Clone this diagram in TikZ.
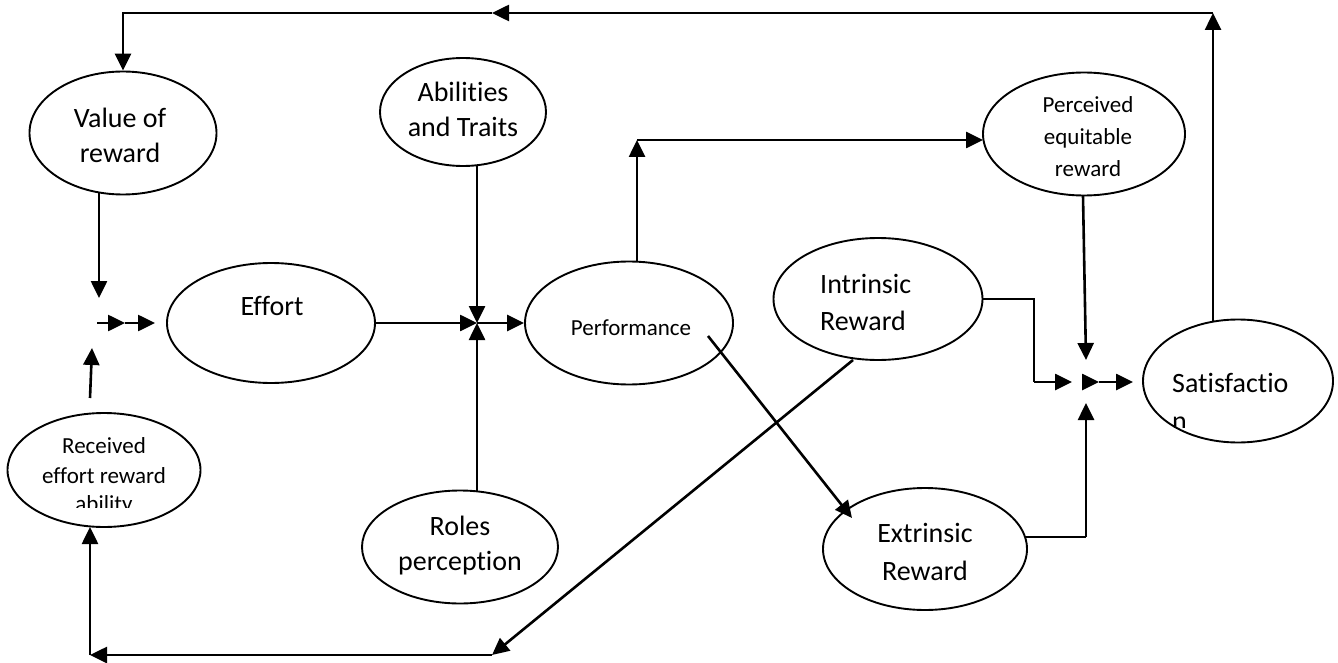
\documentclass[tikz,border=0pt]{standalone}
\usepackage{fontspec}
\setmainfont{Carlito}[RawFeature={-liga;-clig;-calt;-dlig}]
\usetikzlibrary{shapes.geometric,arrows.meta}
\begin{document}
\begin{tikzpicture}[x=1pt,y=-1pt,
  ell/.style={draw, ellipse, line width=1.9pt, inner sep=0pt},
  big/.style={font=\fontsize{28}{35}\selectfont, anchor=base, inner sep=0pt},
  small/.style={font=\fontsize{23}{30}\selectfont, anchor=base, inner sep=0pt},
  conn/.style={line width=2.6pt, -{Triangle[length=17pt,width=16pt]}},
  thin/.style={line width=1.6pt}]
\useasboundingbox (0,0) rectangle (1338,663);
% ellipses
\node[ell, minimum width=187pt, minimum height=123pt] (val) at (123,133) {};
\node[ell, minimum width=208pt, minimum height=120pt] (eff) at (271,323) {};
\node[ell, minimum width=166pt, minimum height=108pt] (abil) at (463,112) {};
\node[ell, minimum width=208pt, minimum height=123pt] (perf) at (629,323) {};
\node[ell, minimum width=196pt, minimum height=113pt] (roles) at (460,547) {};
\node[ell, minimum width=209pt, minimum height=122pt] (intr) at (878,299) {};
\node[ell, minimum width=204pt, minimum height=122pt] (extr) at (925,549) {};
\node[ell, minimum width=202pt, minimum height=123pt] (perc) at (1084,134) {};
\node[ell, minimum width=190pt, minimum height=123pt] (sat) at (1238,381) {};
\node[ell, minimum width=193pt, minimum height=114pt] (recv) at (104,470) {};
% texts
\node[big] (valA) at (120,128) {Value of};
\node[big] (valB) at (120,163) {reward};
\node[big] (effT) at (272,315) {Effort};
\node[big] (abA) at (463,102) {Abilities};
\node[big] (abB) at (463,137) {and Traits};
\node[small] (perfT) at (631,335) {Performance};
\node[big] (roA) at (460,535) {Roles};
\node[big] (roB) at (460,570) {perception};
\node[big, anchor=base west] (inA) at (820,293) {Intrinsic};
\node[big, anchor=base west] (inB) at (820,330) {Reward};
\node[big] (exA) at (925,542) {Extrinsic};
\node[big] (exB) at (925,580) {Reward};
\node[small] (peA) at (1088,113) {Perceived};
\node[small] (peB) at (1088,145) {equitable};
\node[small] (peC) at (1088,177) {reward};
\node[big, anchor=base west] (saA) at (1172,392) {Satisfactio};
\begin{scope}
  \clip (1150,400) rectangle (1330,427);
  \node[big, anchor=base west] (saB) at (1172,430) {n};
\end{scope}
\node[small] (reA) at (104,453) {Received};
\node[small] (reB) at (104,483) {effort reward};
\begin{scope}
  \clip (20,488) rectangle (190,507);
  \node[small] (reC) at (104,511) {ability};
\end{scope}
% coordinates
\coordinate (sTop) at (1213,322);
\coordinate (tr) at (1213,13);
\coordinate (tm) at (492,13);
\coordinate (tl) at (123,13);
\coordinate (vB) at (99,193);
\coordinate (vJ) at (99,298);
\coordinate (jEa) at (97,323);
\coordinate (jEb) at (125,323);
\coordinate (jEc) at (155,323);
\coordinate (rT) at (90,398);
\coordinate (rJ) at (92,348);
\coordinate (bl) at (90,655);
\coordinate (bm) at (492,655);
\coordinate (rB) at (90,527);
\coordinate (iB) at (853,360);
\coordinate (jP) at (477,323);
\coordinate (aB) at (477,165);
\coordinate (roT) at (477,491);
\coordinate (pT) at (637,262);
\coordinate (pC) at (637,140);
\coordinate (peL) at (983,140);
\coordinate (peB) at (1083,196);
\coordinate (sJt) at (1086,360);
\coordinate (iR1) at (1034,299);
\coordinate (iR2) at (1034,382);
\coordinate (sJa) at (1072,382);
\coordinate (sJb) at (1082,382);
\coordinate (sJc) at (1099,382);
\coordinate (sJd) at (1133,382);
\coordinate (eR) at (1026,537);
\coordinate (eR2) at (1086,537);
\coordinate (sJu) at (1086,403);
\coordinate (pD) at (708,336);
\coordinate (eT) at (852,518);
% connectors
\draw[conn] (sTop) -- (tr);
\draw[conn] (tr) -- (tm);
\draw[conn] (tm) -- (tl) -- (val.north);
\draw[conn] (vB) -- (vJ);
\draw[conn] (jEa) -- (jEb);
\draw[conn] (jEb) -- (jEc);
\draw[conn] (rT) -- (rJ);
\draw[conn] (iB) -- (bm);
\draw[conn] (bm) -- (bl);
\draw[conn] (bl) -- (rB);
\draw[conn] (eff.east) -- (jP);
\draw[conn] (aB) -- (jP);
\draw[conn] (roT) -- (jP);
\draw[conn] (jP) -- (perf.west);
\draw[conn] (pT) -- (pC);
\draw[conn] (pC) -- (peL);
\draw[conn] (peB) -- (sJt);
\draw[thin] (intr.east) -- (iR1) -- (iR2);
\draw[conn] (iR2) -- (sJa);
\draw[conn] (sJb) -- (sJc);
\draw[conn] (sJc) -- (sJd);
\draw[line width=1.9pt] (eR) -- (eR2);
\draw[conn] (eR2) -- (sJu);
\draw[conn] (pD) -- (eT);
\end{tikzpicture}
\end{document}
